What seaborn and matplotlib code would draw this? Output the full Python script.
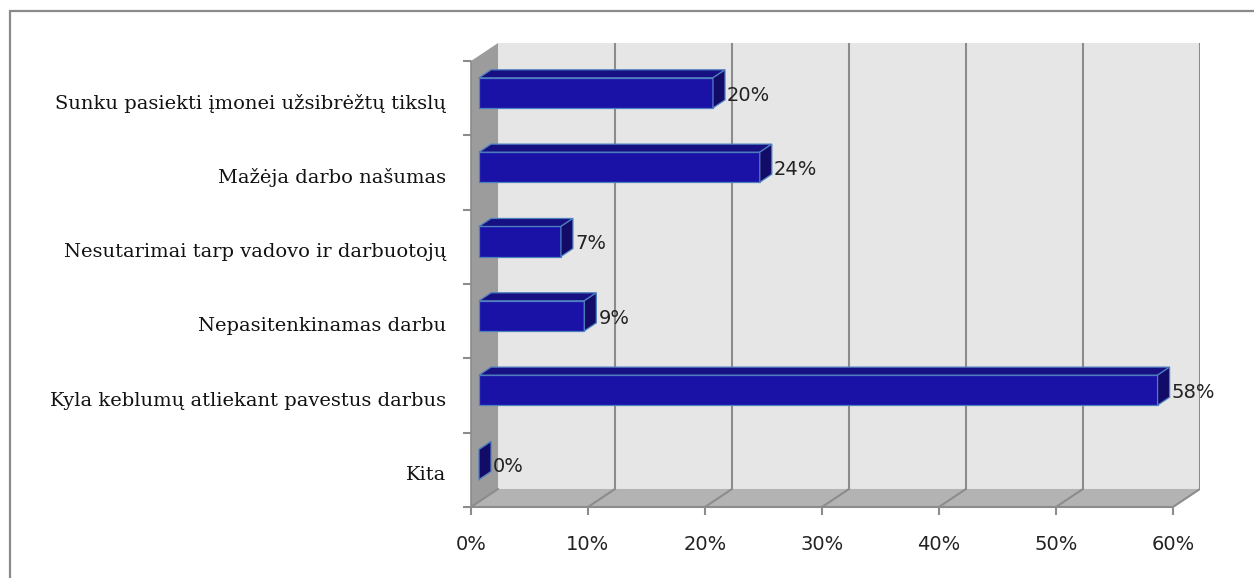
import matplotlib
matplotlib.use("Agg")
import matplotlib.pyplot as plt
from matplotlib.patches import Polygon, Rectangle
from matplotlib.lines import Line2D
from matplotlib.transforms import ScaledTranslation
import seaborn as sns

# Survey answers (share of respondents, %)
categories = [
    "Sunku pasiekti įmonei užsibrėžtų tikslų",
    "Mažėja darbo našumas",
    "Nesutarimai tarp vadovo ir darbuotojų",
    "Nepasitenkinamas darbu",
    "Kyla keblumų atliekant pavestus darbus",
    "Kita",
]
shares = [20, 24, 7, 9, 58, 0]
x_ticks = [0, 10, 20, 30, 40, 50, 60]
x_tick_labels = ["0%", "10%", "20%", "30%", "40%", "50%", "60%"]

sns.set_theme(style="white")

W, H = 1254, 578
fig = plt.figure(figsize=(W / 100, H / 100), dpi=100)
fig.patch.set_facecolor("white")

# outer frame
fig.add_artist(Rectangle((10 / W, -0.05), 1.2, (H - 11) / H + 0.05,
                         transform=fig.transFigure, fill=False,
                         edgecolor="#8a8a8a", linewidth=1.6))

# plotting box: front plane from 0% .. 60%, plus the depth of the walls
ax = fig.add_axes([471 / W, (H - 507) / H, (1200 - 471) / W, (507 - 43) / H])
x_max = x_ticks[-1]
n = len(categories)
px_per_pct = (1172 - 471) / x_max
px_per_cat = (507 - 62) / n
DX = 27 / px_per_pct          # wall depth in x units
DY = 18 / px_per_cat          # wall depth in category units

front_c, top_c, side_c = "#1a12a6", "#161083", "#120c68"
edge_c = "#4f7fbf"
grid_c = "#8c8c8c"
text_c = "#222222"

sns.barplot(x=shares, y=categories, orient="h", width=30 / px_per_cat,
            color=front_c, saturation=1, edgecolor=edge_c, linewidth=0.9,
            ax=ax, zorder=5)

ax.set_xlim(0, x_max + DX)
ax.set_ylim(n - 0.5, -0.5 - DY)

bot = n - 0.5
top = -0.5
# back wall
ax.add_patch(Polygon([(DX, bot - DY), (x_max + DX, bot - DY),
                      (x_max + DX, top - DY), (DX, top - DY)],
                     closed=True, facecolor="#e6e6e6", edgecolor="none", zorder=0))
# left wall
ax.add_patch(Polygon([(0, bot), (DX, bot - DY), (DX, top - DY), (0, top)],
                     closed=True, facecolor="#9c9c9c", edgecolor="none", zorder=1))
# floor
ax.add_patch(Polygon([(0, bot), (x_max, bot), (x_max + DX, bot - DY), (DX, bot - DY)],
                     closed=True, facecolor="#b3b3b3", edgecolor="none", zorder=1))
# grid lines on back wall and floor
for t in x_ticks:
    if t > 0:
        ax.add_line(Line2D([t + DX, t + DX], [bot - DY, top - DY],
                           color=grid_c, lw=1.5, zorder=2))
    ax.add_line(Line2D([t, t + DX], [bot, bot - DY], color=grid_c, lw=1.5, zorder=2))
ax.add_line(Line2D([0, x_max], [bot, bot], color=grid_c, lw=1.5, zorder=3, clip_on=False))
ax.add_line(Line2D([0, 0], [bot, top], color=grid_c, lw=1.2, zorder=3, clip_on=False))

# give the bars depth: front face pushed back, then top and side faces
D0 = 8 / 27
DB = 12 / 27
for p, v in zip(ax.patches[:n], shares):
    p.set_x(p.get_x() + D0 * DX)
    p.set_y(p.get_y() - D0 * DY)
    x0, y0, w, h = p.get_x(), p.get_y(), p.get_width(), p.get_height()
    ddx, ddy = DB * DX, DB * DY
    ax.add_patch(Polygon([(x0, y0), (x0 + w, y0), (x0 + w + ddx, y0 - ddy), (x0 + ddx, y0 - ddy)],
                         closed=True, facecolor=top_c, edgecolor=edge_c, lw=0.9, zorder=6))
    ax.add_patch(Polygon([(x0 + w, y0), (x0 + w, y0 + h), (x0 + w + ddx, y0 + h - ddy),
                          (x0 + w + ddx, y0 - ddy)],
                         closed=True, facecolor=side_c, edgecolor=edge_c, lw=0.9, zorder=6))
    ax.annotate(f"{v}%", xy=(x0 + w + ddx, y0 + h / 2 + 0.03), xytext=(1.5, 0),
                textcoords="offset points", ha="left", va="center",
                fontsize=14, color=text_c, family="DejaVu Sans", zorder=7)

for s in ax.spines.values():
    s.set_visible(False)

ax.set_xticks(x_ticks)
ax.set_xticklabels(x_tick_labels, fontsize=14, color=text_c, family="DejaVu Sans")
ax.tick_params(axis="x", which="major", length=5.5, width=1.5, color=grid_c,
               direction="out", pad=14.5, bottom=True)
ax.set_yticks(range(n))
ax.set_yticklabels(categories, fontsize=14, color="#111111", family="DejaVu Serif")
ax.set_yticks([i - 0.5 for i in range(n + 1)], minor=True)
ax.tick_params(axis="y", which="major", length=0, pad=18)
ax.tick_params(axis="y", which="minor", length=5.5, width=1.5, color=grid_c,
               direction="out", left=True)
shift = ScaledTranslation(0, -3 / 100, fig.dpi_scale_trans)
for lab in ax.get_yticklabels():
    lab.set_transform(lab.get_transform() + shift)
ax.set_xlabel("")
ax.set_ylabel("")

fig.savefig("out.png", dpi=100)
